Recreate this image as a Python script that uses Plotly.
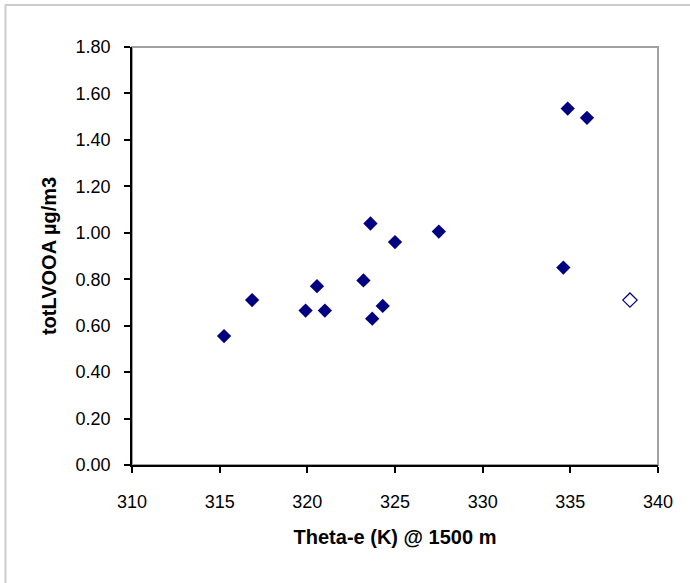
import plotly.graph_objects as go

# filled points
theta_e = [315.25, 316.85, 319.9, 320.55, 321.0, 323.2, 323.6, 323.7, 324.3, 325.0, 327.5, 334.6, 334.85, 335.95]
lvooa = [0.555, 0.71, 0.665, 0.77, 0.665, 0.795, 1.04, 0.63, 0.685, 0.96, 1.005, 0.85, 1.535, 1.495]

# open (outlier) point
theta_e_open = [338.4]
lvooa_open = [0.71]

x_ticks = [310, 315, 320, 325, 330, 335, 340]
y_ticks = [0.0, 0.2, 0.4, 0.6, 0.8, 1.0, 1.2, 1.4, 1.6, 1.8]

NAVY = "#000080"
FONT = "Liberation Sans, Arial, sans-serif"

fig = go.Figure()

fig.add_trace(go.Scatter(
    x=theta_e, y=lvooa, mode="markers",
    marker=dict(symbol="diamond", size=11, color=NAVY, line=dict(width=0)),
    showlegend=False,
))
fig.add_trace(go.Scatter(
    x=theta_e_open, y=lvooa_open, mode="markers",
    marker=dict(symbol="diamond-open", size=11, color=NAVY, line=dict(width=1.2)),
    showlegend=False,
))

# outer chart frame (light gray, runs off the right and bottom edges)
fig.add_shape(type="rect", xref="paper", yref="paper",
              x0=-0.2405, x1=1.2, y0=-0.4, y1=1.1005,
              line=dict(color="#cccccc", width=2), layer="below")
# plot area border (top and right in gray)
fig.add_shape(type="rect", xref="paper", yref="paper",
              x0=0, x1=1, y0=0, y1=1,
              line=dict(color="#a0a0a0", width=2), layer="below")

fig.update_layout(
    width=690, height=583,
    margin=dict(l=132, r=32, t=47, b=118),
    paper_bgcolor="white", plot_bgcolor="white",
    font=dict(family=FONT, color="black"),
    xaxis=dict(
        range=[310, 340], tickvals=x_ticks, ticktext=[str(v) for v in x_ticks],
        showgrid=False, zeroline=False, showline=True, linecolor="black", linewidth=1.5,
        ticks="outside", ticklen=6, tickcolor="black", tickwidth=1.5,
        ticklabelstandoff=14,
        tickfont=dict(size=18, family=FONT),
        title=dict(text="<b>Theta-e (K) @ 1500 m</b>", font=dict(size=20, family=FONT), standoff=19),
    ),
    yaxis=dict(
        range=[0, 1.8], tickvals=y_ticks, ticktext=[f"{v:.2f}" for v in y_ticks],
        showgrid=False, zeroline=False, showline=True, linecolor="black", linewidth=1.5,
        ticks="outside", ticklen=6, tickcolor="black", tickwidth=1.5,
        ticklabelstandoff=10,
        tickfont=dict(size=18, family=FONT),
        title=dict(text="<b>totLVOOA µg/m3</b>", font=dict(size=20, family=FONT), standoff=14),
    ),
)

# drop the default 8px page margin so the chart sits at the window's top-left
fig.write_html("out.html", config={"displayModeBar": False},
               post_script="document.body.style.margin='0';")
